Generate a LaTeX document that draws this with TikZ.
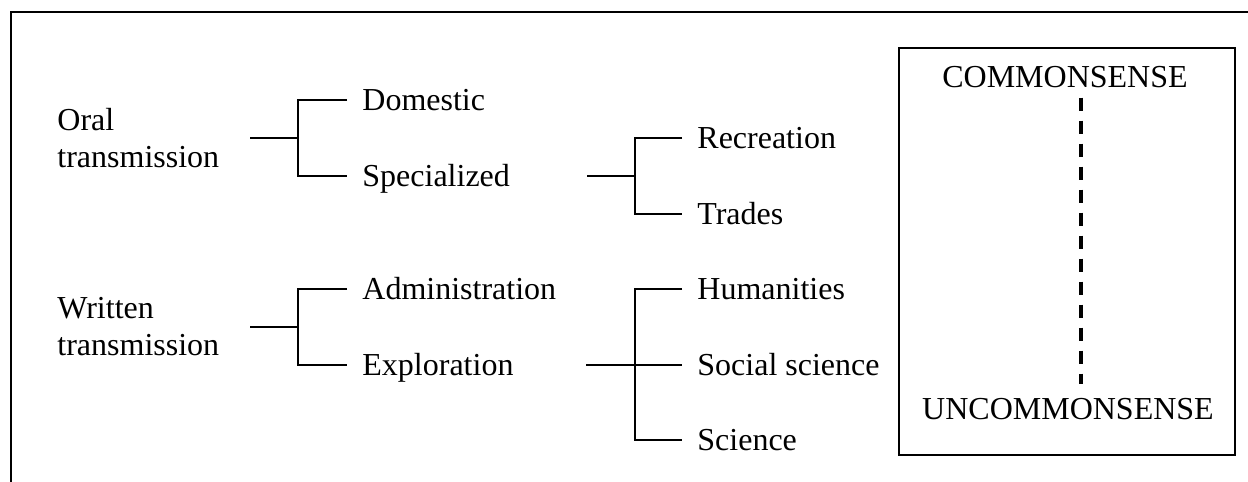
\documentclass[tikz,border=0pt]{standalone}
\usepackage{fontspec}
\setmainfont{Liberation Serif}

\begin{document}
\begin{tikzpicture}[x=0.5pt,y=-0.5pt,  % one unit is one pixel of the picture
    every node/.style={font=\fontsize{16}{18.5}\selectfont, inner sep=0pt},
    root/.style={anchor=west, align=left},
    leaf/.style={anchor=west, inner xsep=7.5pt, text height=13.3pt, text depth=3.3pt},
    branch/.style={line width=1pt},
    frame/.style={line width=1.1pt},
    senseline/.style={line width=1.6pt, dash pattern=on 6.5pt off 5pt}]

    \useasboundingbox (0,0) rectangle (1248,482);

    % Outer frame (top and left only)
    \draw[frame] (11,482) -- (11,12) -- (1248,12);

    % Roots of the two trees
    \node[root] (oral) at (57,138) {Oral\\transmission};
    \node[root] (written) at (57,327) {Written\\transmission};

    % First level
    \node[leaf] (domestic) at (347,100) {Domestic};
    \node[leaf] (specialized) at (347,176) {Specialized};
    \node[leaf] (admin) at (347,289) {Administration};
    \node[leaf] (explore) at (347,365) {Exploration};

    % Second level
    \node[leaf] (recreation) at (682,138) {Recreation};
    \node[leaf] (trades) at (682,214) {Trades};
    \node[leaf] (humanities) at (682,289) {Humanities};
    \node[leaf] (social) at (682,365) {Social science};
    \node[leaf] (science) at (682,440) {Science};

    % Junction points of the brackets
    \coordinate (oral-s) at (250,138);      \coordinate (oral-j) at (298,138);
    \coordinate (spec-s) at (587,176);      \coordinate (spec-j) at (635,176);
    \coordinate (written-s) at (250,327);   \coordinate (written-j) at (298,327);
    \coordinate (explore-s) at (586,365);   \coordinate (explore-j) at (635,365);

    % Brackets
    \draw[branch] (oral-s) -- (oral-j);
    \draw[branch] (domestic.west) -| (oral-j) |- (specialized.west);
    \draw[branch] (spec-s) -- (spec-j);
    \draw[branch] (recreation.west) -| (spec-j) |- (trades.west);
    \draw[branch] (written-s) -- (written-j);
    \draw[branch] (admin.west) -| (written-j) |- (explore.west);
    \draw[branch] (explore-s) -- (social.west);
    \draw[branch] (humanities.west) -| (explore-j) |- (science.west);

    % Scale box on the right
    \draw[frame] (899,48) rectangle (1235,455);
    \node[anchor=base] (common) at (1065,87) {COMMONSENSE};
    \node[anchor=base] (uncommon) at (1068,419) {UNCOMMONSENSE};
    \draw[senseline, shorten <=5pt, shorten >=6.7pt]
        ([xshift=8pt]common.south) -- ([xshift=6.5pt]uncommon.north);

\end{tikzpicture}
\end{document}
